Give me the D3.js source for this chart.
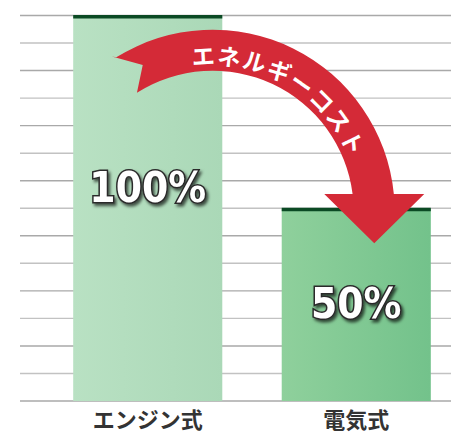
<!DOCTYPE html>
<html>
<head>
<meta charset="utf-8">
<script src="https://cdn.jsdelivr.net/npm/d3@7"></script>
<style>
	body { margin: 0; background: #fff; }
	svg { display: block; }
</style>
</head>
<body>
<div id="plot"></div>
<script>
//Data
const categories = ['エンジン式', '電気式'];
const values = [100, 50];
const valueLabels = ['100%', '50%'];
const labelLevels = [51.5, 21.5]; // where the % text sits, in value units
const arrowLabel = 'エネルギーコスト';
const gridSteps = 14;

const w = 451, h = 434;
const svg = d3.select('#plot').append('svg').attr('width', w).attr('height', h);
const defs = svg.append('defs');

//Scales
const x = d3.scaleBand().domain(categories).range([44, 460]).paddingInner(0.285).paddingOuter(0.14);
const y = d3.scaleLinear().domain([0, 100]).range([401, 15.5]);

//Gradients for the two bars
const barColors = [['#b9e1c3', '#aad8b7'], ['#8fd09c', '#73c28b']];
barColors.forEach((c, i) => {
	const g = defs.append('linearGradient').attr('id', 'bar' + i)
		.attr('x1', 0).attr('x2', 1).attr('y1', 0).attr('y2', 0);
	g.append('stop').attr('offset', 0).attr('stop-color', c[0]);
	g.append('stop').attr('offset', 1).attr('stop-color', c[1]);
});

const shadow = defs.append('filter').attr('id', 'shadow')
	.attr('x', '-20%').attr('y', '-30%').attr('width', '150%').attr('height', '170%');
shadow.append('feDropShadow').attr('dx', 2).attr('dy', 2.5).attr('stdDeviation', 1.6)
	.attr('flood-color', '#000').attr('flood-opacity', 0.65);

//Gridlines
const gridVals = d3.range(gridSteps + 1).map(i => i * 100 / gridSteps);
svg.append('g').selectAll('line')
	.data(gridVals)
	.enter().append('line')
	.attr('x1', 20).attr('x2', w)
	.attr('y1', d => y(d)).attr('y2', d => y(d))
	.style('stroke', (d, i) => i % 2 ? '#c2c2c2' : '#a9a9a9')
	.style('stroke-width', '1.4px');

//Bars
const bars = svg.append('g').selectAll('.bar')
	.data(values)
	.enter().append('g').attr('class', 'bar');
bars.append('rect')
	.attr('x', (d, i) => x(categories[i]))
	.attr('width', x.bandwidth())
	.attr('y', d => y(d))
	.attr('height', d => y(0) - y(d))
	.style('fill', (d, i) => `url(#bar${i})`);
bars.append('rect')
	.attr('x', (d, i) => x(categories[i]))
	.attr('width', x.bandwidth())
	.attr('y', d => y(d) - 0.5)
	.attr('height', 3.5)
	.style('fill', '#0b4a24');

//Category labels
svg.append('g').selectAll('text')
	.data(categories)
	.enter().append('text')
	.attr('x', d => x(d) + x.bandwidth() / 2)
	.attr('y', 428)
	.attr('text-anchor', 'middle')
	.style('font-family', '"Noto Sans CJK JP", sans-serif')
	.style('font-weight', 700)
	.style('font-size', '22px')
	.style('fill', '#333')
	.text(d => d);

//Curved arrow
const cx = 212.7, cy = 211.7, rOut = 182, rIn = 141, headY = 194;
const rad = a => a * Math.PI / 180;
const pt = (r, a) => [cx + r * Math.cos(rad(a)), cy + r * Math.sin(rad(a))];
const tailA = -123, notchA = -115.5;
const outEndA = Math.asin((headY - cy) / rOut) * 180 / Math.PI;
const inEndA = Math.asin((headY - cy) / rIn) * 180 / Math.PI;
const tipX = x(categories[1]) + x.bandwidth() / 2 + 18;
const tipY = y(values[1]) + 35;
const p = d3.path();
p.moveTo(...pt(rOut + 3, tailA));
p.arc(cx, cy, rOut, rad(tailA + 1), rad(outEndA), false);
p.lineTo(tipX + 50, headY);
p.lineTo(tipX, tipY);
p.lineTo(tipX - 50, headY);
p.lineTo(...pt(rIn, inEndA));
p.arc(cx, cy, rIn, rad(inEndA), rad(tailA + 0.5), true);
p.lineTo(...pt((rIn + rOut) / 2 + 1, notchA));
p.closePath();
svg.append('path').attr('d', p.toString()).style('fill', '#d42a37');

//Arrow text along the arc
const rText = 147;
const tp = d3.path();
tp.moveTo(...pt(rText, -98));
tp.arc(cx, cy, rText, rad(-98), rad(-5), false);
defs.append('path').attr('id', 'arcText').attr('d', tp.toString());
svg.append('text')
	.style('font-family', '"Noto Sans CJK JP", sans-serif')
	.style('font-weight', 700)
	.style('font-size', '23px')
	.style('letter-spacing', '1.6px')
	.style('fill', '#fff')
	.append('textPath').attr('href', '#arcText')
	.text(arrowLabel);

//Value labels
svg.append('g').selectAll('text')
	.data(valueLabels)
	.enter().append('text')
	.attr('x', (d, i) => x(categories[i]) + x.bandwidth() / 2)
	.attr('y', (d, i) => y(labelLevels[i]))
	.attr('text-anchor', 'middle')
	.attr('filter', 'url(#shadow)')
	.style('font-family', '"DejaVu Sans Condensed", "DejaVu Sans", sans-serif')
	.style('font-weight', 700)
	.style('font-size', '42px')
	.style('fill', '#fff')
	.style('stroke', '#2b2b2b')
	.style('stroke-width', '3px')
	.style('paint-order', 'stroke')
	.text(d => d);
</script>
</body>
</html>
